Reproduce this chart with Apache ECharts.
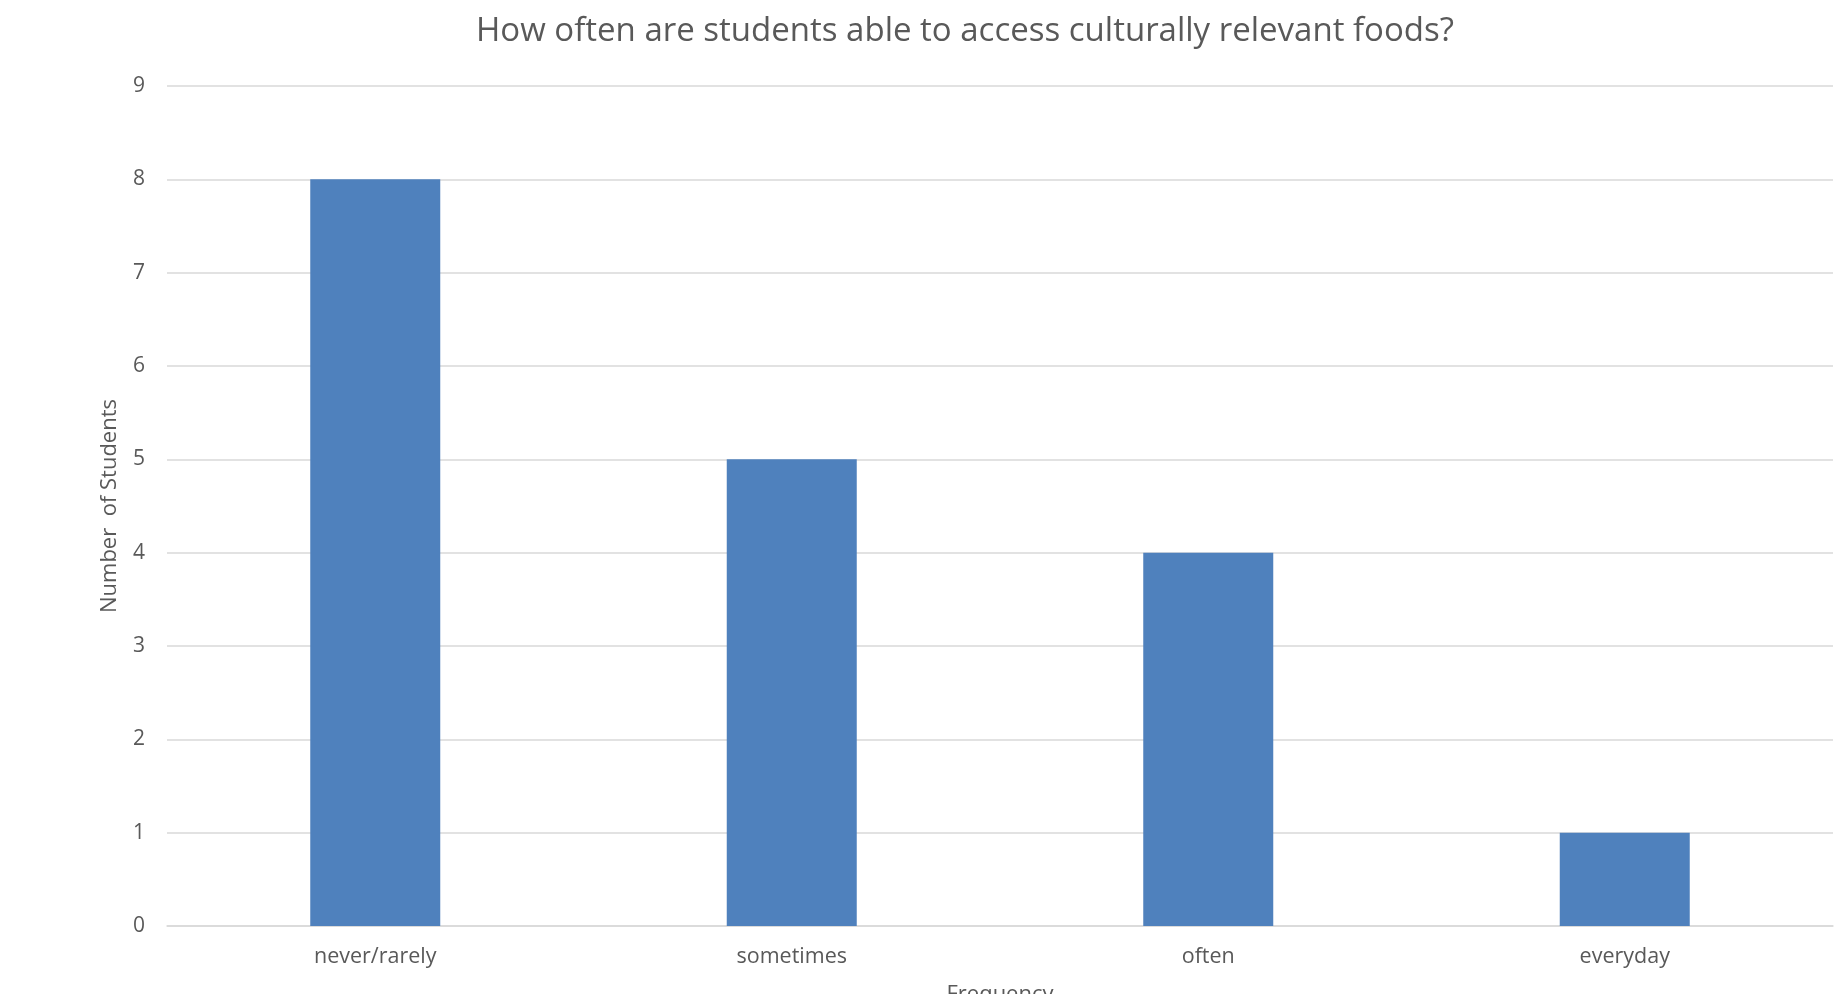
<!DOCTYPE html>
<html>
<head>
<meta charset="utf-8">
<script src="https://cdn.jsdelivr.net/npm/echarts@6/dist/echarts.min.js"></script>
<style>html,body{margin:0;padding:0;background:#fff;overflow:hidden;}#c{width:1845px;height:994px;}</style>
</head>
<body>
<div id="c"></div>
<script>
const titleText = 'How often are students able to access culturally relevant foods?';
const categories = ['never/rarely', 'sometimes', 'often', 'everyday'];
const students = [8, 5, 4, 1];
const yTicks = [0, 1, 2, 3, 4, 5, 6, 7, 8, 9];
const xName = 'Frequency';
const yName = 'Number  of Students';

const el = document.getElementById('c');
const chart = echarts.init(el, null, { width: 1845, height: 994 });
const font = '"Open Sans", "Noto Sans", sans-serif';
chart.setOption({
  animation: false,
  backgroundColor: '#ffffff',
  title: {
    text: titleText,
    left: 960, top: 10, textAlign: 'center',
    textStyle: { fontFamily: font, fontSize: 33, fontWeight: 'normal', color: '#595959' }
  },
  grid: { left: 167, right: 12, top: 86, bottom: 68, containLabel: false, outerBoundsMode: 'none' },
  xAxis: {
    type: 'category',
    data: categories,
    name: xName,
    nameLocation: 'middle',
    nameGap: 58,
    nameTextStyle: { fontFamily: font, fontSize: 22, color: '#595959' },
    axisLine: { show: true, lineStyle: { color: '#d9d9d9', width: 1.5 } },
    axisTick: { show: false },
    axisLabel: { fontFamily: font, fontSize: 21.5, color: '#595959', margin: 20 }
  },
  yAxis: {
    type: 'value',
    min: yTicks[0], max: yTicks[yTicks.length - 1], interval: 1,
    name: yName,
    nameLocation: 'middle',
    nameGap: 46,
    nameTextStyle: { fontFamily: font, fontSize: 22, color: '#595959' },
    axisLine: { show: false },
    axisTick: { show: false },
    axisLabel: { fontFamily: font, fontSize: 21, color: '#595959', margin: 22 },
    splitLine: { lineStyle: { color: '#d9d9d9', width: 1.5 } }
  },
  series: [{
    type: 'bar',
    data: students,
    barWidth: 130,
    itemStyle: { color: '#4f81bd' }
  }]
});
</script>
</body>
</html>
